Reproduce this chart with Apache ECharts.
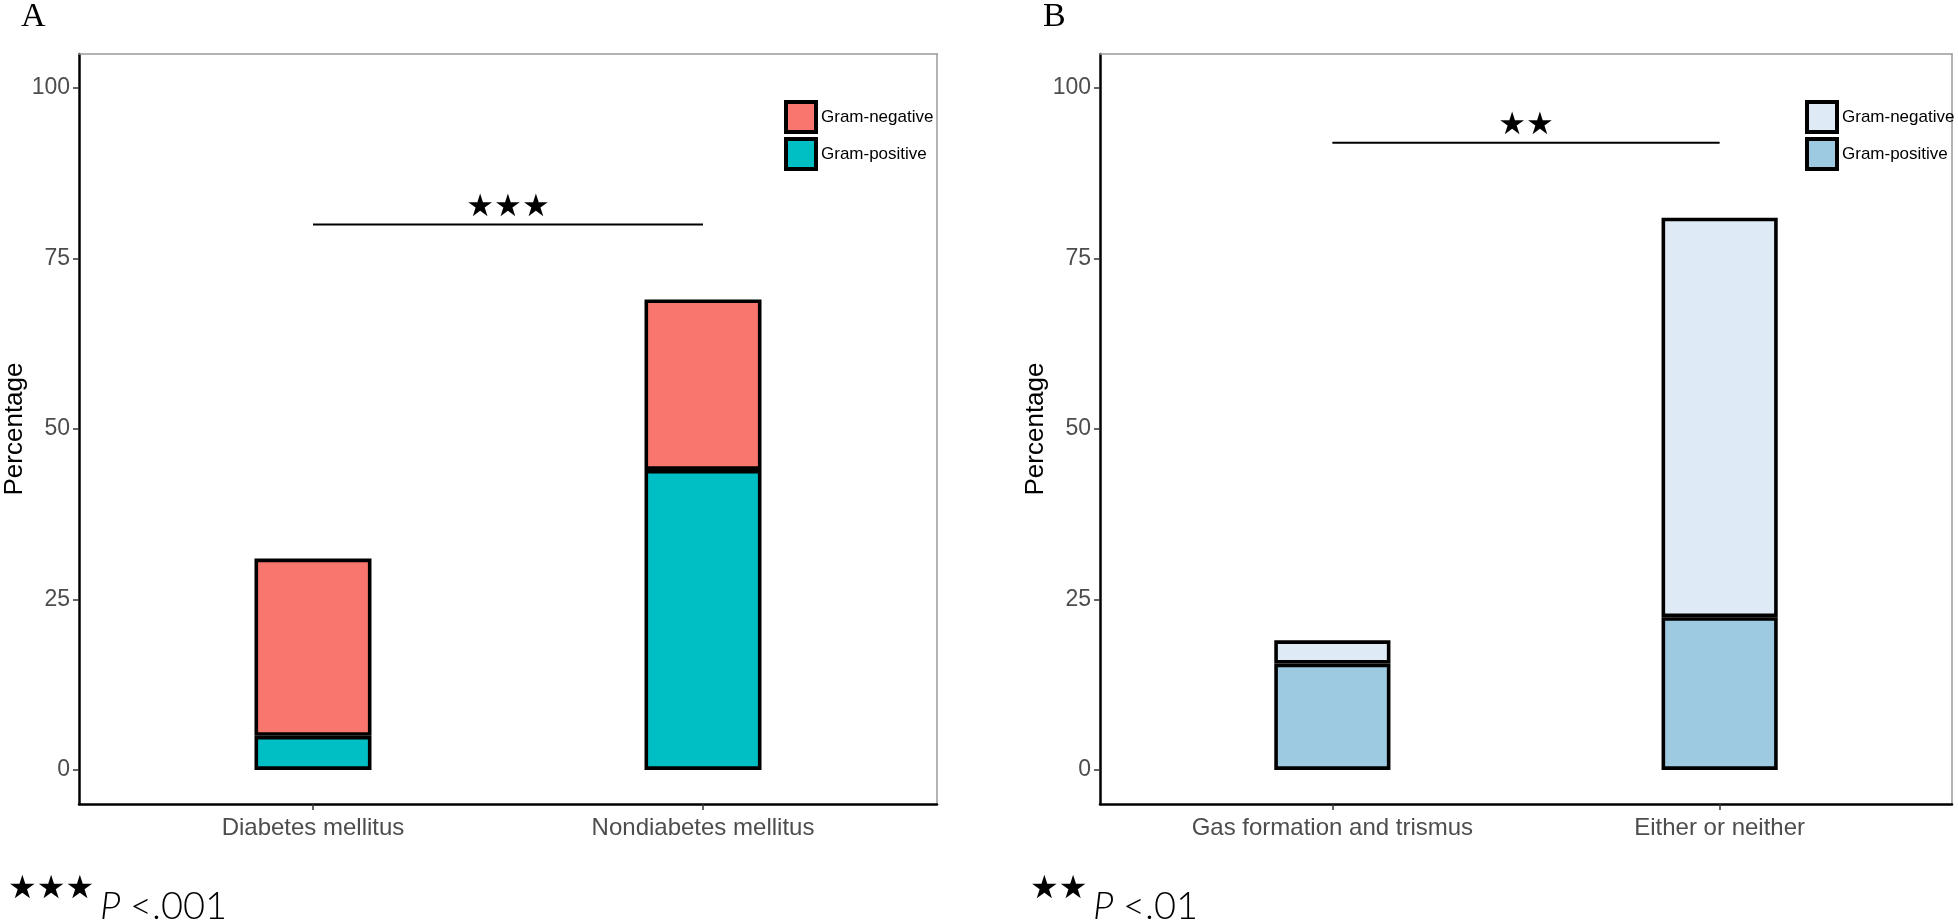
<!DOCTYPE html>
<html>
<head>
<meta charset="utf-8">
<script src="https://cdn.jsdelivr.net/npm/echarts@6/dist/echarts.min.js"></script>
<style>html,body{margin:0;padding:0;background:#fff}#c{width:1958px;height:924px}</style>
</head>
<body>
<div id="c"></div>
<script>
// ---- data ----
const categoriesA = ['Diabetes mellitus', 'Nondiabetes mellitus'];
const gramPositiveA = [5, 44];
const gramNegativeA = [26, 25];
const categoriesB = ['Gas formation and trismus', 'Either or neither'];
const gramPositiveB = [15.6, 22.4];
const gramNegativeB = [3.4, 58.6];
const yTickValues = [0, 25, 50, 75, 100];
const seriesNames = ['Gram-negative', 'Gram-positive'];
const sigA = { value: 80, stars: '★★★' };
const sigB = { value: 92, stars: '★★' };
const footA = { stars: '★★★', p: 'P', rest: '<.001' };
const footB = { stars: '★★', p: 'P', rest: '<.01' };
const panelTitles = ['A', 'B'];

const colorsA = { neg: '#F8766D', pos: '#00BFC4' };
const colorsB = { neg: '#DEEBF7', pos: '#9ECAE1' };

const SANS = 'Liberation Sans, Arial, sans-serif';
const Y_MIN = -5, Y_MAX = 105, X_MIN = 0.4, X_MAX = 2.6;

// frame panels (full extent, ggplot-like expansion) and inner bar grids
const frames = [
  { left: 79, top: 54, width: 858, height: 750 },
  { left: 1100, top: 54, width: 852, height: 750 }
];
function innerGrid(f) {
  const unit = f.width / (X_MAX - X_MIN);
  return { left: f.left + (0.5 - X_MIN) * unit, top: f.top, width: 2 * unit, height: f.height };
}

function frameXAxes(gi, cats) {
  return [
    {
      gridIndex: gi, type: 'value', min: X_MIN, max: X_MAX, position: 'bottom',
      axisLine: { onZero: false, lineStyle: { color: '#000', width: 2.5 } },
      axisTick: { customValues: [1, 2], length: 6, lineStyle: { color: '#333', width: 1.5 } },
      axisLabel: { customValues: [1, 2], formatter: v => cats[Math.round(v) - 1], color: '#4d4d4d', fontSize: 24, fontFamily: SANS, margin: 12 },
      splitLine: { show: false }
    },
    {
      gridIndex: gi, type: 'value', min: X_MIN, max: X_MAX, position: 'top',
      axisLine: { onZero: false, lineStyle: { color: '#9a9a9a', width: 1.5 } },
      axisTick: { show: false }, axisLabel: { show: false }, splitLine: { show: false }
    }
  ];
}
function frameYAxes(gi) {
  return [
    {
      gridIndex: gi, type: 'value', min: Y_MIN, max: Y_MAX, position: 'left',
      name: 'Percentage', nameLocation: 'middle', nameGap: 50,
      nameTextStyle: { color: '#000', fontSize: 26, fontFamily: SANS },
      axisLine: { show: true, onZero: false, lineStyle: { color: '#000', width: 2.5 } },
      axisTick: { show: true, customValues: yTickValues, length: 6, lineStyle: { color: '#333', width: 1.5 } },
      axisLabel: { customValues: yTickValues, color: '#4d4d4d', fontSize: 23, fontFamily: SANS, margin: 9 },
      splitLine: { show: false }
    },
    {
      gridIndex: gi, type: 'value', min: Y_MIN, max: Y_MAX, position: 'right',
      axisLine: { show: true, onZero: false, lineStyle: { color: '#9a9a9a', width: 1.5 } },
      axisTick: { show: false }, axisLabel: { show: false }, splitLine: { show: false }
    }
  ];
}
function innerXAxis(gi, cats) {
  return { gridIndex: gi, type: 'category', data: cats, show: false };
}
function innerYAxis(gi) {
  return { gridIndex: gi, type: 'value', min: Y_MIN, max: Y_MAX, show: false, splitLine: { show: false } };
}

function panelSeries(p, pos, neg, colors, sig) {
  const fx = p * 2, fy = p * 2;       // frame axes
  const ix = 4 + p, iy = 4 + p;       // inner bar axes
  const border = { borderColor: '#000', borderWidth: 3.6 };
  return [
    {
      type: 'bar', name: seriesNames[1], xAxisIndex: ix, yAxisIndex: iy, stack: 'p' + p,
      barWidth: '30%', data: pos,
      itemStyle: Object.assign({ color: colors.pos }, border)
    },
    {
      type: 'bar', name: seriesNames[0], xAxisIndex: ix, yAxisIndex: iy, stack: 'p' + p,
      barWidth: '30%', data: neg,
      itemStyle: Object.assign({ color: colors.neg }, border)
    },
    {
      type: 'line', xAxisIndex: fx, yAxisIndex: fy, silent: true, symbol: 'none',
      data: [[1, sig.value], [2, sig.value]],
      lineStyle: { color: '#000', width: 2 }
    },
    {
      type: 'scatter', xAxisIndex: fx, yAxisIndex: fy, silent: true, symbolSize: 0,
      itemStyle: { opacity: 1 },
      data: [[1.5, sig.value]],
      label: { show: true, position: 'top', distance: 1, formatter: sig.stars, color: '#000', opacity: 1, fontSize: 31, fontFamily: 'DejaVu Sans' }
    }
  ];
}

function legend(left, colors) {
  return {
    left: left, top: 95, orient: 'vertical', icon: 'rect',
    itemWidth: 30, itemHeight: 30, itemGap: 3, selectedMode: false,
    itemStyle: { borderColor: '#000', borderWidth: 4 },
    textStyle: { color: '#000', fontSize: 17, fontFamily: SANS },
    data: [
      { name: seriesNames[0], itemStyle: { color: colors.neg, borderColor: '#000', borderWidth: 4 } },
      { name: seriesNames[1], itemStyle: { color: colors.pos, borderColor: '#000', borderWidth: 4 } }
    ]
  };
}

function footnote(x, f) {
  const sw = 29 * f.stars.length;
  return [
    { type: 'text', x: x, y: 906, style: { text: f.stars, fill: '#000', font: '32px DejaVu Sans', textVerticalAlign: 'bottom' } },
    { type: 'text', x: x + sw + 5, y: 926, style: { text: f.p, fill: '#000', font: 'italic 300 38px Lato', textVerticalAlign: 'bottom' } },
    { type: 'text', x: x + sw + 35, y: 926, style: { text: f.rest, fill: '#000', font: '300 38px Lato', textVerticalAlign: 'bottom' } }
  ];
}

const option = {
  animation: false,
  backgroundColor: '#fff',
  grid: [frames[0], frames[1], innerGrid(frames[0]), innerGrid(frames[1])],
  xAxis: [...frameXAxes(0, categoriesA), ...frameXAxes(1, categoriesB), innerXAxis(2, categoriesA), innerXAxis(3, categoriesB)],
  yAxis: [...frameYAxes(0), ...frameYAxes(1), innerYAxis(2), innerYAxis(3)],
  legend: [legend(779, colorsA), legend(1800, colorsB)],
  series: [
    ...panelSeries(0, gramPositiveA, gramNegativeA, colorsA, sigA),
    ...panelSeries(1, gramPositiveB, gramNegativeB, colorsB, sigB)
  ],
  graphic: [
    { type: 'text', x: 21, y: 0, style: { text: panelTitles[0], fill: '#000', font: '34px Liberation Serif' } },
    { type: 'text', x: 1043, y: 0, style: { text: panelTitles[1], fill: '#000', font: '34px Liberation Serif' } },
    ...footnote(8, footA),
    ...footnote(1030, footB)
  ]
};

const chart = echarts.init(document.getElementById('c'), null, { renderer: 'canvas' });
chart.setOption(option);
</script>
</body>
</html>
